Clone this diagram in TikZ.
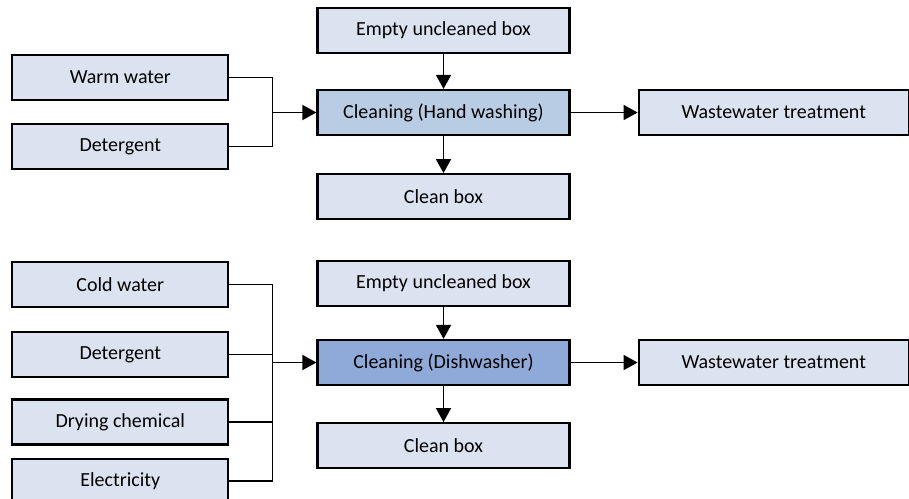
\documentclass[tikz,border=0pt]{standalone}
\usepackage{fontspec}
\setmainfont{Carlito}
\usetikzlibrary{positioning}
\usetikzlibrary{arrows.meta,calc}
\definecolor{boxfill}{RGB}{220,227,240}
\definecolor{handfill}{RGB}{184,204,228}
\definecolor{dishfill}{RGB}{143,170,216}
\tikzset{
  box/.style={draw=black,line width=2.2pt,fill=boxfill,minimum height=45pt,inner sep=0pt,font=\fontsize{20}{24}\selectfont},
  inbox/.style={box,minimum width=216pt},
  midbox/.style={box,minimum width=252pt},
  outbox/.style={box,minimum width=270pt},
  flow/.style={line width=1.5pt,-{Triangle[length=14pt,width=15pt]}},
  feed/.style={line width=1.5pt}
}

\begin{document}
\begin{tikzpicture}[x=1pt,y=-1pt]
    \useasboundingbox (0,0) rectangle (909,498);
    % hand washing
    \node[midbox,fill=handfill] (HW) at (443.5,112.5) {Cleaning (Hand washing)};
    \node[midbox] (E1) [above=35pt of HW] {Empty uncleaned box};
    \node[midbox] (C1) [below=37pt of HW] {Clean box};
    \node[outbox] (W1) [right=67pt of HW] {Wastewater treatment};
    \node[inbox] (warm) [left=87pt of HW,yshift=35pt] {Warm water};
    \node[inbox] (det1) [below=22pt of warm] {Detergent};
    \coordinate (j1) at ($(HW.west)+(-44,0)$);
    \draw[feed] (warm) -| (j1);
    \draw[feed] (det1) -| (j1);
    \draw[flow] (j1) -- (HW);
    \draw[flow] (E1) -- (HW);
    \draw[flow] (HW) -- (C1);
    \draw[flow] (HW) -- (W1);
    % dishwasher
    \node[midbox,fill=dishfill] (DW) at (443.5,362.5) {Cleaning (Dishwasher)};
    \node[midbox] (E2) [above=32pt of DW] {Empty uncleaned box};
    \node[midbox] (C2) [below=36pt of DW] {Clean box};
    \node[outbox] (W2) [right=67pt of DW] {Wastewater treatment};
    \node[inbox] (cold) [left=87pt of DW,yshift=78pt] {Cold water};
    \node[inbox] (det2) [below=23pt of cold] {Detergent};
    \node[inbox] (dry) [below=20pt of det2] {Drying chemical};
    \node[inbox] (elec) [below=12pt of dry] {Electricity};
    \coordinate (j2) at ($(DW.west)+(-44,0)$);
    \draw[feed] (cold) -| (j2);
    \draw[feed] (det2) -| (j2);
    \draw[feed] (dry) -| (j2);
    \draw[feed] (elec) -| (j2);
    \draw[flow] (j2) -- (DW);
    \draw[flow] (E2) -- (DW);
    \draw[flow] (DW) -- (C2);
    \draw[flow] (DW) -- (W2);
\end{tikzpicture}
\end{document}
